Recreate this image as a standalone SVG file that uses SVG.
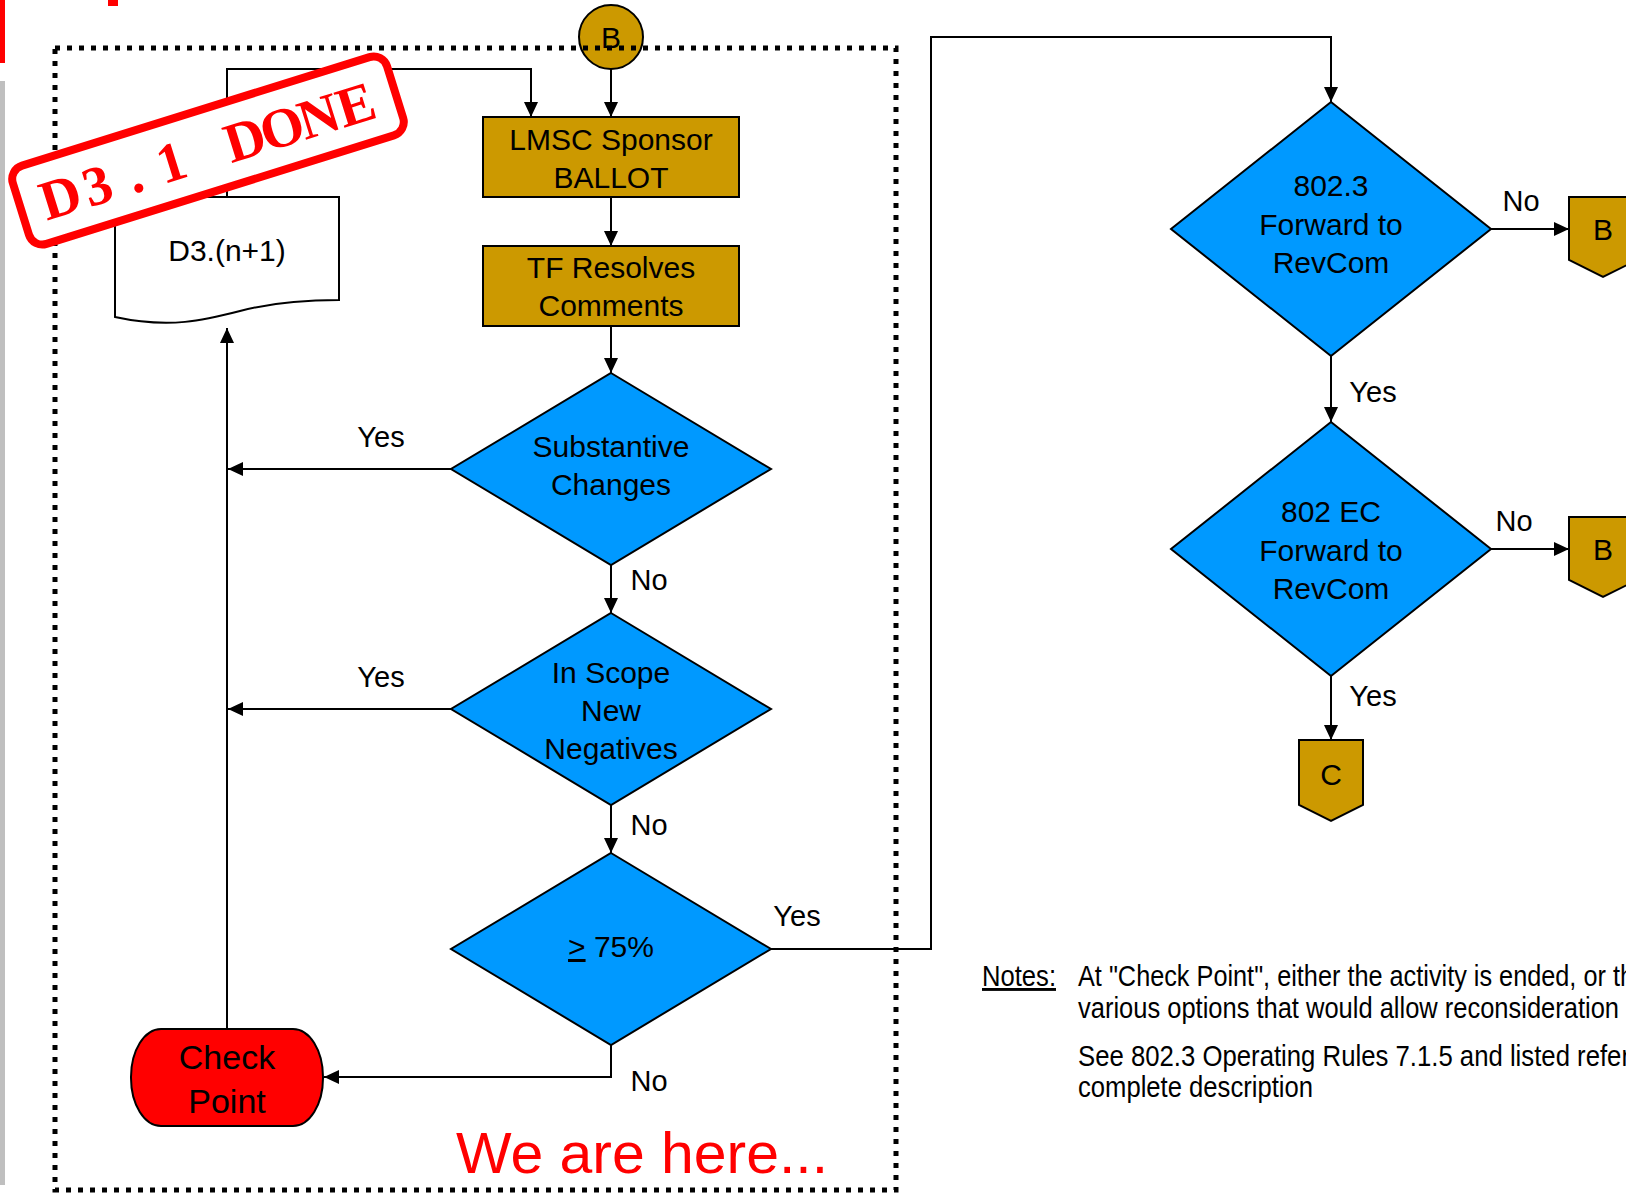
<svg xmlns="http://www.w3.org/2000/svg" width="1626" height="1193" viewBox="0 0 1626 1193">
  <defs>
    <marker id="arrow" viewBox="0 0 15 14" markerWidth="15" markerHeight="14" refX="15" refY="7" orient="auto" markerUnits="userSpaceOnUse">
      <path d="M0,0 L15,7 L0,14 z" fill="#000"/>
    </marker>
    <style>
      .lbl { font-family: "Liberation Sans", Arial, sans-serif; font-size: 30px; fill: #000; text-anchor: middle; }
      .edge { font-family: "Liberation Sans", Arial, sans-serif; font-size: 29px; fill: #000; text-anchor: middle; }
      .note { font-family: "Liberation Sans", Arial, sans-serif; font-size: 29px; fill: #000; }
      .proc { fill: #CC9900; stroke: #000; stroke-width: 2; }
      .dec { fill: #0099FF; stroke: #000; stroke-width: 2; }
      .conn { fill: none; stroke: #000; stroke-width: 2; }
      .conn-a { fill: none; stroke: #000; stroke-width: 2; marker-end: url(#arrow); }
    </style>
  </defs>

  <rect width="1626" height="1193" fill="#fff"/>

  <!-- page edge marks -->
  <rect x="0" y="0" width="5" height="63" fill="#FF0000"/>
  <rect x="108" y="0" width="10" height="6" fill="#FF0000"/>
  <rect x="0" y="81" width="5" height="1104" fill="#BFBFBF"/>

  <!-- connectors -->
  <g id="connectors">
    <polyline class="conn-a" points="227,197 227,69 531,69 531,117"/>
    <line class="conn-a" x1="611" y1="69" x2="611" y2="117"/>
    <line class="conn-a" x1="611" y1="197" x2="611" y2="246"/>
    <line class="conn-a" x1="611" y1="326" x2="611" y2="373"/>
    <line class="conn-a" x1="451" y1="469" x2="228" y2="469"/>
    <line class="conn-a" x1="611" y1="565" x2="611" y2="613"/>
    <line class="conn-a" x1="451" y1="709" x2="228" y2="709"/>
    <line class="conn-a" x1="611" y1="805" x2="611" y2="853"/>
    <polyline class="conn-a" points="611,1045 611,1077 324,1077"/>
    <line class="conn-a" x1="227" y1="1029" x2="227" y2="328"/>
    <polyline class="conn-a" points="771,949 931,949 931,37 1331,37 1331,102"/>
    <line class="conn-a" x1="1491" y1="229" x2="1569" y2="229"/>
    <line class="conn-a" x1="1331" y1="356" x2="1331" y2="422"/>
    <line class="conn-a" x1="1491" y1="549" x2="1569" y2="549"/>
    <line class="conn-a" x1="1331" y1="676" x2="1331" y2="740"/>

    <text class="edge" x="381" y="447">Yes</text>
    <text class="edge" x="649" y="590">No</text>
    <text class="edge" x="381" y="687">Yes</text>
    <text class="edge" x="649" y="835">No</text>
    <text class="edge" x="797" y="926">Yes</text>
    <text class="edge" x="649" y="1091">No</text>
    <text class="edge" x="1521" y="211">No</text>
    <text class="edge" x="1373" y="402">Yes</text>
    <text class="edge" x="1514" y="531">No</text>
    <text class="edge" x="1373" y="706">Yes</text>
  </g>

  <!-- nodes -->
  <g id="draft-doc">
    <path d="M115,197 H339 V300 C300,300 270,303 240,311 C205,320 170,329 115,317 Z" fill="#fff" stroke="#000" stroke-width="2"/>
    <text class="lbl" x="227" y="261">D3.(n+1)</text>
  </g>

  <g id="connector-b-in">
    <circle cx="611" cy="37" r="32" class="proc"/>
    <text class="lbl" x="611" y="48">B</text>
  </g>

  <g id="sponsor-ballot">
    <rect x="483" y="117" width="256" height="80" class="proc"/>
    <text class="lbl" x="611" y="150">LMSC Sponsor</text>
    <text class="lbl" x="611" y="188">BALLOT</text>
  </g>

  <g id="tf-resolves">
    <rect x="483" y="246" width="256" height="80" class="proc"/>
    <text class="lbl" x="611" y="278">TF Resolves</text>
    <text class="lbl" x="611" y="316">Comments</text>
  </g>

  <g id="substantive">
    <polygon points="611,373 771,469 611,565 451,469" class="dec"/>
    <text class="lbl" x="611" y="457">Substantive</text>
    <text class="lbl" x="611" y="495">Changes</text>
  </g>

  <g id="in-scope">
    <polygon points="611,613 771,709 611,805 451,709" class="dec"/>
    <text class="lbl" x="611" y="683">In Scope</text>
    <text class="lbl" x="611" y="721">New</text>
    <text class="lbl" x="611" y="759">Negatives</text>
  </g>

  <g id="approval">
    <polygon points="611,853 771,949 611,1045 451,949" class="dec"/>
    <text class="lbl" x="611" y="957"><tspan text-decoration="underline">&gt;</tspan> 75%</text>
  </g>

  <g id="check-point">
    <rect x="131" y="1029" width="192" height="97" rx="30" ry="48" fill="#FF0000" stroke="#000" stroke-width="2"/>
    <text class="lbl" x="227" y="1069" style="font-size:34px">Check</text>
    <text class="lbl" x="227" y="1113" style="font-size:34px">Point</text>
  </g>

  <g id="wg-forward">
    <polygon points="1331,102 1491,229 1331,356 1171,229" class="dec"/>
    <text class="lbl" x="1331" y="196">802.3</text>
    <text class="lbl" x="1331" y="235">Forward to</text>
    <text class="lbl" x="1331" y="273">RevCom</text>
  </g>

  <g id="ec-forward">
    <polygon points="1331,422 1491,549 1331,676 1171,549" class="dec"/>
    <text class="lbl" x="1331" y="522">802 EC</text>
    <text class="lbl" x="1331" y="561">Forward to</text>
    <text class="lbl" x="1331" y="599">RevCom</text>
  </g>

  <g id="connector-b-out-1">
    <polygon points="1569,197 1637,197 1637,260 1603,277 1569,260" class="proc"/>
    <text class="lbl" x="1603" y="240">B</text>
  </g>

  <g id="connector-b-out-2">
    <polygon points="1569,517 1637,517 1637,580 1603,597 1569,580" class="proc"/>
    <text class="lbl" x="1603" y="560">B</text>
  </g>

  <g id="connector-c-out">
    <polygon points="1299,740 1363,740 1363,805 1331,821 1299,805" class="proc"/>
    <text class="lbl" x="1331" y="785">C</text>
  </g>

  <!-- dotted boundary of the ballot loop -->
  <rect x="55" y="48" width="841" height="1142" fill="none" stroke="#000" stroke-width="5" stroke-dasharray="5 7"/>

  <text x="642" y="1173" text-anchor="middle" textLength="372" lengthAdjust="spacingAndGlyphs" style="font-family:'Liberation Sans',Arial,sans-serif;font-size:58px;fill:#FF0000">We are here...</text>

  <!-- notes -->
  <g id="notes">
    <text class="note" x="982" y="986" text-decoration="underline" textLength="74" lengthAdjust="spacingAndGlyphs">Notes:</text>
    <text class="note" x="1078" y="986" textLength="556" lengthAdjust="spacingAndGlyphs">At "Check Point", either the activity is ended, or th</text>
    <text class="note" x="1078" y="1018" textLength="541" lengthAdjust="spacingAndGlyphs">various options that would allow reconsideration</text>
    <text class="note" x="1078" y="1066" textLength="552" lengthAdjust="spacingAndGlyphs">See 802.3 Operating Rules 7.1.5 and listed refer</text>
    <text class="note" x="1078" y="1097" textLength="235" lengthAdjust="spacingAndGlyphs">complete description</text>
  </g>

  <!-- status stamp: slab-serif letters set on a fixed cell pitch -->
  <g id="stamp" transform="translate(208,150.5) rotate(-17.35)">
    <rect x="-196" y="-41" width="392" height="82" rx="14" fill="#fff" stroke="#FF0000" stroke-width="8"/>
    <text y="19" text-anchor="middle" x="-154.7 -116 -77.3 -38.7 0 38.7 77.3 116 154.7" style="font-family:'Liberation Serif','Times New Roman',serif;font-weight:bold;font-size:56px;fill:#FF0000">D3.1 DONE</text>
  </g>
</svg>
